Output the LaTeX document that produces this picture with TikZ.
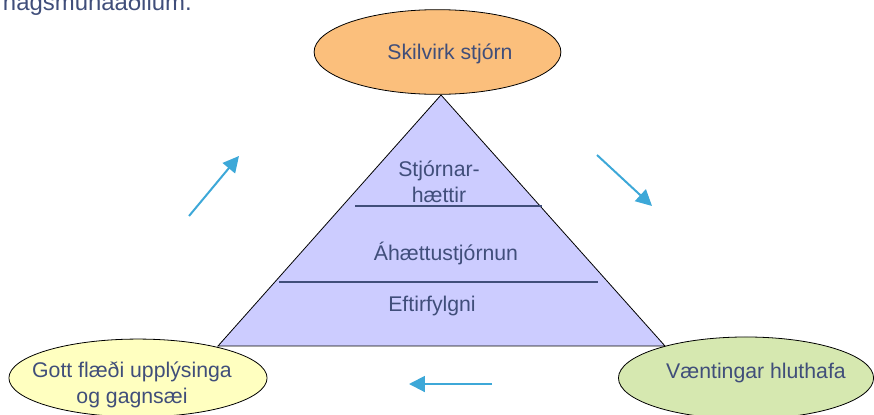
\documentclass[tikz,border=0pt]{standalone}
\usepackage{fontspec}
\setmainfont{Liberation Sans}
\usepackage{tikz}
\usetikzlibrary{arrows.meta,shapes.geometric}

\definecolor{txtblue}{RGB}{64,78,122}
\definecolor{orangefill}{RGB}{251,191,124}
\definecolor{yellowfill}{RGB}{255,255,192}
\definecolor{greenfill}{RGB}{214,232,176}
\definecolor{lilacfill}{RGB}{204,204,255}
\definecolor{arrowblue}{RGB}{61,168,216}

\begin{document}
\begin{tikzpicture}[
  oval/.style={ellipse,draw=black,line width=0.6pt,inner sep=0pt},
  txt/.style={text=txtblue,font=\fontsize{16}{19.5}\selectfont,align=center,inner sep=0pt},
  flow/.style={draw=arrowblue,line width=1.5pt,-{Triangle[length=12pt,width=12pt]}},
  layer/.style={draw=txtblue,line width=1.1pt}]
\useasboundingbox (0,0) rectangle (23.124,-10.980);

% line left over from the text above
\draw (5.080,-0.278) node (prev) [txt,anchor=base east,font=\fontsize{18}{22}\selectfont] {hagsmunaaðilum.};

% pyramid
\coordinate (apex)  at (11.668,-2.513);
\coordinate (baseL) at (5.768,-9.154);
\coordinate (baseR) at (17.594,-9.154);
\filldraw[fill=lilacfill,draw=black,line width=0.6pt] (apex) -- (baseL) -- (baseR) -- cycle;

\coordinate (l1a) at (9.393,-5.450);
\coordinate (l1b) at (14.340,-5.450);
\draw[layer] (l1a) -- (l1b);
\coordinate (l2a) at (7.382,-7.461);
\coordinate (l2b) at (15.822,-7.461);
\draw[layer] (l2a) -- (l2b);

\draw (11.615,-4.815) node (stj)  [txt] {Stjórnar-\\hættir};
\draw (11.800,-6.720) node (ahs)  [txt] {Áhættustjórnun};
\draw (11.430,-8.083) node (eft)  [txt] {Eftirfylgni};

% the three ovals
\draw (11.575,-1.376) node (skil) [oval,fill=orangefill,minimum width=6.53cm,minimum height=2.24cm] {};
\draw (11.906,-1.423) node (skilT) [txt] {Skilvirk stjórn};

\draw (3.651,-10.001)  node (flow) [oval,fill=yellowfill,minimum width=6.83cm,minimum height=2.06cm] {};
\draw (3.492,-10.193)  node (flowT) [txt] {Gott flæði upplýsinga\\og gagnsæi};

\draw (19.738,-10.001) node (vaent) [oval,fill=greenfill,minimum width=6.75cm,minimum height=2.17cm] {};
\draw (20.002,-9.864)  node (vaentT) [txt] {Væntingar hluthafa};

% arrows round the pyramid
\coordinate (a1s) at (5.001,-5.715);
\coordinate (a1e) at (6.323,-4.127);
\draw[flow] (a1s) -- (a1e);

\coordinate (a2s) at (15.795,-4.101);
\coordinate (a2e) at (17.251,-5.450);
\draw[flow] (a2s) -- (a2e);

\coordinate (a3s) at (13.017,-10.160);
\coordinate (a3e) at (10.821,-10.160);
\draw[flow] (a3s) -- (a3e);
\end{tikzpicture}
\end{document}
